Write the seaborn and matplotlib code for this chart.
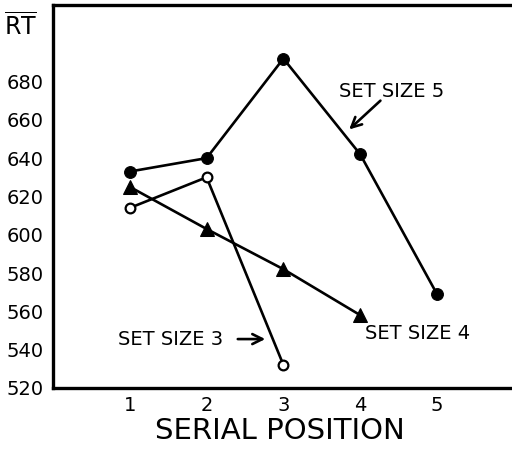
import matplotlib
matplotlib.use("Agg")
import matplotlib.pyplot as plt
import seaborn as sns
import pandas as pd

positions5 = [1, 2, 3, 4, 5]
rt5 = [633, 640, 692, 642, 569]
positions4 = [1, 2, 3, 4]
rt4 = [625, 603, 582, 558]
positions3 = [1, 2, 3]
rt3 = [614, 630, 532]
yticks = [520, 540, 560, 580, 600, 620, 640, 660, 680, 700]
ytick_labels = ["520", "540", "560", "580", "600", "620", "640", "660", "680", ""]
xticks = [1, 2, 3, 4, 5]
xtick_labels = ["1", "2", "3", "4", "5"]

sns.set_style("white")
plt.rcParams["font.family"] = ["DejaVu Sans"]
plt.rcParams["mathtext.fontset"] = "custom"
plt.rcParams["mathtext.rm"] = "DejaVu Sans"
plt.rcParams["text.color"] = "black"
plt.rcParams["axes.labelcolor"] = "black"

fig = plt.figure(figsize=(5.12, 4.5), dpi=100)
ax = fig.add_axes([0.1035, 0.138, 0.93, 0.851])

df5 = pd.DataFrame({"pos": positions5, "rt": rt5})
df4 = pd.DataFrame({"pos": positions4, "rt": rt4})
df3 = pd.DataFrame({"pos": positions3, "rt": rt3})

sns.lineplot(data=df5, x="pos", y="rt", ax=ax, color="black", lw=1.9,
             marker="o", markersize=8.5, markerfacecolor="black", markeredgecolor="black")
sns.lineplot(data=df4, x="pos", y="rt", ax=ax, color="black", lw=1.9,
             marker="^", markersize=9.5, markerfacecolor="black", markeredgecolor="black")
sns.lineplot(data=df3, x="pos", y="rt", ax=ax, color="black", lw=1.9,
             marker="o", markersize=7, markerfacecolor="white", markeredgecolor="black",
             markeredgewidth=1.6)

ax.set_xlim(0, 6.2)
ax.set_ylim(520, 720)
ax.set_xticks(xticks)
ax.set_xticklabels(xtick_labels)
ax.set_yticks(yticks)
ax.set_yticklabels(ytick_labels)
ax.tick_params(axis="both", direction="in", length=8, width=2, labelsize=14, colors="black")
ax.tick_params(axis="x", pad=6)
ax.tick_params(axis="y", pad=7)

for s in ["left", "bottom", "top"]:
    ax.spines[s].set_linewidth(2.4)
    ax.spines[s].set_color("black")
ax.spines["right"].set_visible(False)

ax.set_xlabel("SERIAL POSITION", fontsize=21, labelpad=4)
ax.xaxis.set_label_coords(2.95 / 6.2, -0.075)
ax.set_ylabel("")

fig.text(0.008, 0.94, r"$\overline{\mathrm{RT}}$", fontsize=17, ha="left", va="center")

tkw = dict(fontsize=14, ha="left", va="center")
ax.text(3.72, 675, "SET SIZE 5", **tkw)
ax.annotate("", xy=(3.83, 654), xytext=(4.29, 671),
            arrowprops=dict(arrowstyle="->", color="black", lw=1.9, mutation_scale=18))
ax.text(4.06, 548.5, "SET SIZE 4", **tkw)
ax.text(0.84, 545.5, "SET SIZE 3", **tkw)
ax.annotate("", xy=(2.8, 545.5), xytext=(2.37, 545.5),
            arrowprops=dict(arrowstyle="->", color="black", lw=1.9, mutation_scale=18))

fig.savefig("out.png", dpi=100)
